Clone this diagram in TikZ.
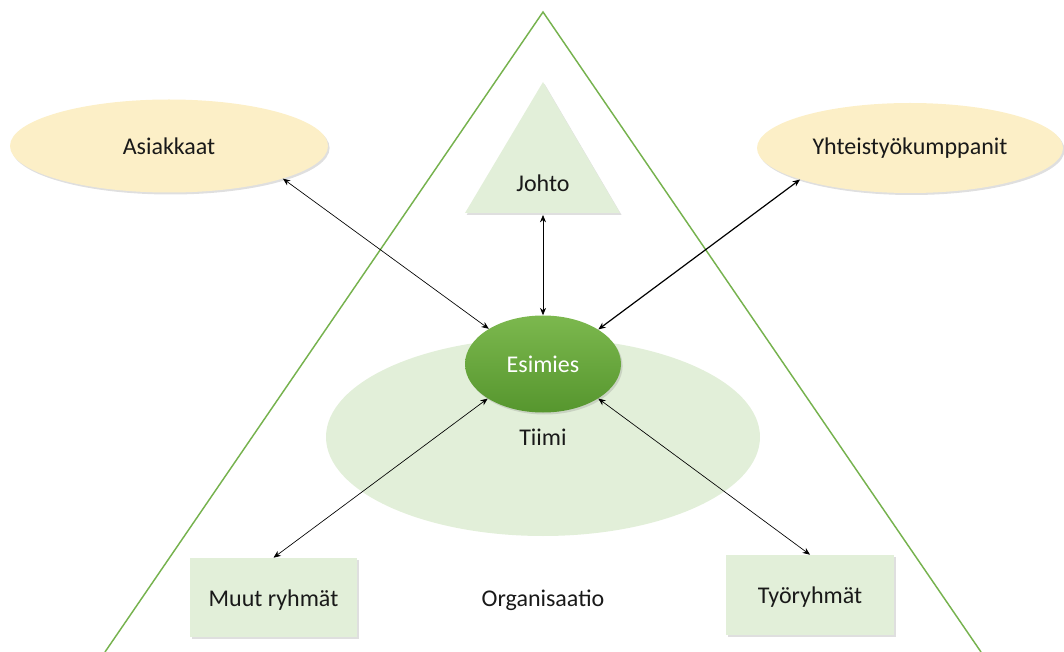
\documentclass[tikz,border=0pt]{standalone}
\usepackage{fontspec}
\setmainfont{Carlito}
\usetikzlibrary{shapes.geometric,shadows,arrows.meta}
\definecolor{lgreen}{RGB}{226,239,217}
\definecolor{cream}{RGB}{252,239,199}
\definecolor{lineg}{RGB}{118,178,78}
\definecolor{txt}{RGB}{25,25,25}
\definecolor{esitop}{RGB}{124,184,78}
\definecolor{esibot}{RGB}{86,150,46}
\begin{document}
\begin{tikzpicture}[x=0.75pt,y=-0.75pt,
  font=\fontsize{18}{21}\selectfont, text=txt,
  shad/.style={drop shadow={opacity=0.25,shadow xshift=1.2pt,shadow yshift=-1.5pt}},
  outer/.style={ellipse, fill=cream, inner sep=0pt, shad},
  lgbox/.style={rectangle, fill=lgreen, inner sep=0pt, shad},
  arr/.style={{Stealth[length=5.5pt,width=4.5pt]}-{Stealth[length=5.5pt,width=4.5pt]}, line width=0.5pt, black}]
\useasboundingbox (0,0) rectangle (1064,652);
% organisation triangle
\draw[lineg, line width=1.1pt] (105,652) -- (543,12) -- (981,652);
% team
\node[ellipse, fill=lgreen, inner sep=0pt, minimum width=325.5pt, minimum height=148.5pt] (tiimi) at (543,437) {};
\node at (543,437) (tiimitxt) {Tiimi};
% management triangle
\fill[lgreen, shad] (543,82) -- (620,213) -- (465,213) -- cycle;
\node (johto) at (543,183) {Johto};
\coordinate (johtobase) at (543,215);
% boss
\node[ellipse, top color=esitop, bottom color=esibot, inner sep=0pt, minimum width=117pt, minimum height=72.75pt, text=white, shad] (esim) at (543,364) {Esimies};
% outer stakeholders
\node[outer, minimum width=238.5pt, minimum height=69.75pt] (asiak) at (169,146) {Asiakkaat};
\node[outer, minimum width=229.5pt, minimum height=67.5pt] (yht) at (910,148) {Yhteistyökumppanit};
% groups
\node[lgbox, minimum width=125.25pt, minimum height=59.25pt] (muut) at (273.5,597.5) {};
\node at (273.5,600) (muuttxt) {Muut ryhmät};
\node[lgbox, minimum width=126pt, minimum height=60pt] (tyo) at (810,595) {};
\node at (810,597) (tyotxt) {Työryhmät};
\node (org) at (543,600) {Organisaatio};
% connectors
\draw[arr] (asiak.-16) -- (esim.147);
\draw[arr] (johtobase) -- (esim.north);
\draw[arr, line width=0.9pt] (yht.196) -- (esim.32);
\draw[arr] (muut.north) -- (esim.212);
\draw[arr] (tyo.north) -- (esim.-32);
\end{tikzpicture}
\end{document}
